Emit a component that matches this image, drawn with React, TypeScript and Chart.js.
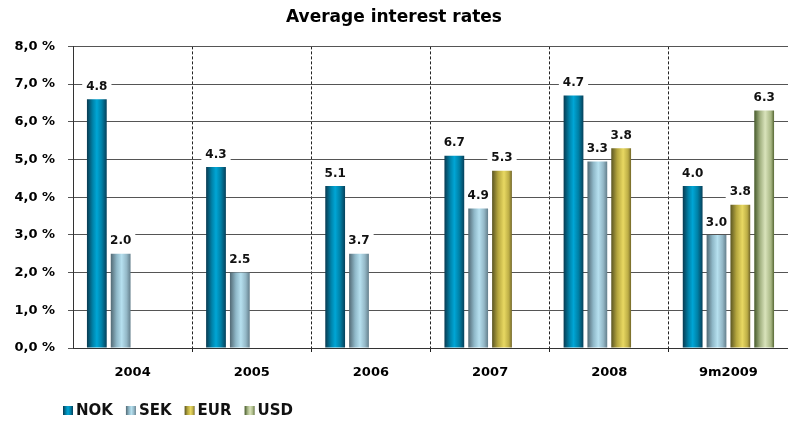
import React, { useEffect, useRef } from "react";
import { Chart, registerables } from "chart.js";

Chart.register(...registerables);

const categories = ["2004", "2005", "2006", "2007", "2008", "9m2009"];
const seriesNames = ["NOK", "SEK", "EUR", "USD"];
const nokValues = [6.6, 4.8, 4.3, 5.1, 6.7, 4.3];
const sekValues = [2.5, 2.0, 2.5, 3.7, 4.95, 3.0];
const eurValues = [null, null, null, 4.7, 5.3, 3.8];
const usdValues = [null, null, null, null, null, 6.3];
const nokLabels = ["4.8", "4.3", "5.1", "6.7", "4.7", "4.0"];
const sekLabels = ["2.0", "2.5", "3.7", "4.9", "3.3", "3.0"];
const eurLabels = [null, null, null, "5.3", "3.8", "3.8"];
const usdLabels = [null, null, null, null, null, "6.3"];
const yTicks = [0, 1, 2, 3, 4, 5, 6, 7, 8];

const FONT = "'DejaVu Sans', 'Liberation Sans', Arial, sans-serif";

const gradientStops: [number, string][][] = [
  [[0, "#093a50"], [0.3, "#0084ab"], [0.5, "#00a6d6"], [0.75, "#0080a6"], [1, "#06405a"]],
  [[0, "#526974"], [0.3, "#8fb8c8"], [0.55, "#b6e0ef"], [0.8, "#94b8c7"], [1, "#647f8c"]],
  [[0, "#5a5522"], [0.3, "#b5a63e"], [0.6, "#e8d862"], [0.85, "#bcad46"], [1, "#716527"]],
  [[0, "#465a2b"], [0.3, "#a4b383"], [0.55, "#d9e3bb"], [0.85, "#a6b582"], [1, "#566733"]],
];
const solidColors = ["#00a0cc", "#a8d4e4", "#e0d05a", "#cfdcae"];

function makeGrad(ctx: CanvasRenderingContext2D, x0: number, x1: number, i: number) {
  const g = ctx.createLinearGradient(x0, 0, x1, 0);
  for (const [o, c] of gradientStops[i]) g.addColorStop(o, c);
  return g;
}

const labelSets = [nokLabels, sekLabels, eurLabels, usdLabels];
const LABEL_FONT = `bold 12px ${FONT}`;

function eachLabel(chart: any, fn: (txt: string, x: number, cy: number, tw: number) => void) {
  const ctx = chart.ctx;
  ctx.font = LABEL_FONT;
  chart.data.datasets.forEach((ds: any, di: number) => {
    const meta = chart.getDatasetMeta(di);
    const labels = labelSets[di];
    meta.data.forEach((el: any, i: number) => {
      const txt = labels[i];
      const v = ds.data[i];
      if (txt == null || v == null) return;
      fn(txt, el.x, el.y - 13, ctx.measureText(txt).width);
    });
  });
}

const gradientPlugin = {
  id: "barGradients",
  beforeDatasetsDraw(chart: any) {
    const ctx = chart.ctx;
    chart.data.datasets.forEach((_: any, di: number) => {
      const meta = chart.getDatasetMeta(di);
      meta.data.forEach((el: any) => {
        if (el.x == null || isNaN(el.y)) return;
        const w = el.width;
        const g = makeGrad(ctx, el.x - w / 2, el.x + w / 2, di);
        el.options = { ...el.options, backgroundColor: g };
      });
    });
    ctx.save();
    ctx.fillStyle = "#ffffff";
    eachLabel(chart, (txt, x, cy, tw) => {
      ctx.fillRect(x - tw / 2 - 4, cy - 7, tw + 8, 14);
    });
    ctx.restore();
  },
  afterDatasetsDraw(chart: any) {
    const ctx = chart.ctx;
    ctx.save();
    ctx.textAlign = "center";
    ctx.textBaseline = "middle";
    ctx.fillStyle = "#111111";
    eachLabel(chart, (txt, x, cy) => {
      ctx.fillText(txt, x, cy + 0.5);
    });
    ctx.restore();
  },
  afterDraw(chart: any) {
    const ctx = chart.ctx;
    ctx.save();
    ctx.font = `bold 15px ${FONT}`;
    ctx.textBaseline = "middle";
    ctx.textAlign = "left";
    let x = chart.chartArea.left - 10;
    const cy = 411;
    seriesNames.forEach((name, i) => {
      ctx.fillStyle = makeGrad(ctx, x, x + 10, i);
      ctx.fillRect(x, cy - 5, 10, 9);
      ctx.fillStyle = "#111111";
      const tx = x + 13;
      ctx.fillText(name, tx, cy);
      x = tx + ctx.measureText(name).width + 13;
    });
    ctx.restore();
  },
};

export default function App() {
  const ref = useRef<HTMLCanvasElement | null>(null);
  useEffect(() => {
    document.body.style.margin = "0";
    const canvas = ref.current;
    if (!canvas) return;
    const chart = new Chart(canvas, {
      type: "bar",
      data: {
        labels: categories,
        datasets: [nokValues, sekValues, eurValues, usdValues].map((d, i) => ({
          label: seriesNames[i],
          data: d,
          backgroundColor: solidColors[i],
          borderWidth: 0,
          categoryPercentage: 0.8,
          barPercentage: 0.83,
        })),
      },
      options: {
        animation: false,
        responsive: true,
        maintainAspectRatio: false,
        layout: { padding: { left: 0, right: 0, top: 0, bottom: 0 } },
        plugins: {
          legend: { display: false },
          tooltip: { enabled: false },
          title: {
            display: true,
            text: "Average interest rates",
            color: "#000000",
            font: { family: FONT, size: 17, weight: "bold" },
            padding: { top: 7, bottom: 19 },
          },
        },
        scales: {
          x: {
            offset: true,
            grid: {
              offset: true,
              color: (c: any) => (c.index === 0 ? "rgba(0,0,0,0)" : "#222222"),
              lineWidth: 1,
              tickLength: 6,
              tickBorderDash: [3, 2],
            },
            border: { display: true, color: "#333333", width: 1, dash: [3, 2] },
            ticks: {
              color: "#000000",
              font: { family: FONT, size: 13, weight: "bold" },
              padding: 11,
            },
            afterFit(s: any) {
              s.height = 73;
            },
          },
          y: {
            min: 0,
            max: 8,
            afterBuildTicks(s: any) {
              s.ticks = yTicks.map((v) => ({ value: v }));
            },
            grid: { color: "#555555", lineWidth: 1, tickLength: 5 },
            border: { display: true, color: "#333333", width: 1 },
            ticks: {
              color: "#000000",
              font: { family: FONT, size: 13, weight: "bold" },
              padding: 13,
              callback: (v: any) => Number(v).toFixed(1).replace(".", ",") + " %",
            },
            afterFit(s: any) {
              s.width = 73;
            },
          },
        },
      },
      plugins: [gradientPlugin],
    });
    return () => chart.destroy();
  }, []);
  return (
    <div style={{ position: "relative", width: 788, height: 421 }}>
      <canvas ref={ref} />
    </div>
  );
}
